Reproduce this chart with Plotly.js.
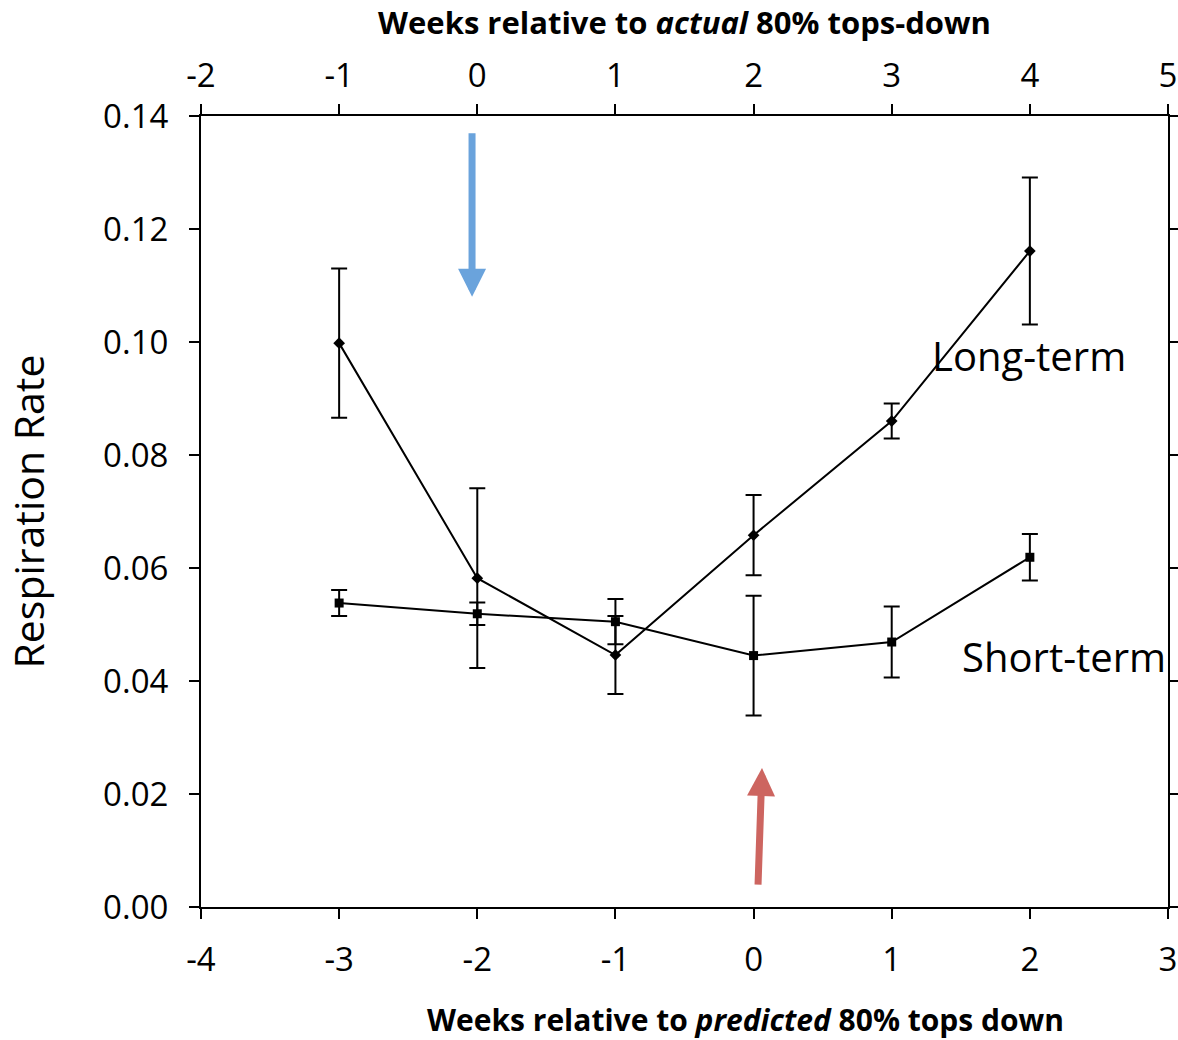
<!DOCTYPE html>
<html>
<head>
<meta charset="utf-8">
<script src="https://cdn.plot.ly/plotly-3.0.1.min.js"></script>
<style>
  html, body { margin: 0; padding: 0; background: #ffffff; }
  #chart { width: 1178px; height: 1040px; }
</style>
</head>
<body>
<div id="chart"></div>
<script>
// Weeks relative to predicted 80% tops down (bottom axis)
const weeksPredicted = [-3, -2, -1, 0, 1, 2];
// Long-term respiration rate and error
const longTerm    = [0.0998, 0.0582, 0.0446, 0.0658, 0.0860, 0.1161];
const longTermErr = [0.0132, 0.0159, 0.0069, 0.0071, 0.0031, 0.0130];
// Short-term respiration rate and error
const shortTerm    = [0.0538, 0.0519, 0.0505, 0.0445, 0.0469, 0.0619];
const shortTermErr = [0.0023, 0.0020, 0.0040, 0.0106, 0.0063, 0.0041];
// Axis ticks
const bottomTicks = [-4, -3, -2, -1, 0, 1, 2, 3];
const topTicks = [-2, -1, 0, 1, 2, 3, 4, 5];
const yTicks = [0, 0.02, 0.04, 0.06, 0.08, 0.10, 0.12, 0.14];

const FONT = '"Open Sans", "DejaVu Sans", sans-serif';

const traces = [
  {
    name: 'Long-term',
    x: weeksPredicted, y: longTerm,
    type: 'scatter', mode: 'lines+markers',
    line: {color: '#000000', width: 2},
    marker: {symbol: 'diamond', size: 9, color: '#000000'},
    error_y: {type: 'data', array: longTermErr, visible: true, color: '#000000', thickness: 2, width: 8},
    hoverinfo: 'skip', cliponaxis: false
  },
  {
    name: 'Short-term',
    x: weeksPredicted, y: shortTerm,
    type: 'scatter', mode: 'lines+markers',
    line: {color: '#000000', width: 2},
    marker: {symbol: 'square', size: 9, color: '#000000'},
    error_y: {type: 'data', array: shortTermErr, visible: true, color: '#000000', thickness: 2, width: 8},
    hoverinfo: 'skip', cliponaxis: false
  },
  {
    // empty trace so that the top (actual) axis is drawn
    name: 'actual axis', x: [], y: [], xaxis: 'x2', yaxis: 'y',
    type: 'scatter', mode: 'markers', hoverinfo: 'skip', showlegend: false
  }
];

const tickFont = {family: FONT, size: 33, color: '#000000'};
const axTitleFont = {family: FONT, size: 31, color: '#000000', weight: 'bold'};

const layout = {
  width: 1178, height: 1040,
  margin: {l: 201, r: 10, t: 116, b: 133},
  paper_bgcolor: '#ffffff', plot_bgcolor: '#ffffff',
  showlegend: false,
  xaxis: {
    range: [-4, 3], tickvals: bottomTicks, ticktext: bottomTicks.map(String),
    showgrid: false, zeroline: false,
    showline: true, linecolor: '#000000', linewidth: 2,
    ticks: 'outside', ticklen: 10, tickwidth: 2, tickcolor: '#000000',
    ticklabelstandoff: 12,
    tickfont: tickFont
  },
  xaxis2: {
    overlaying: 'x', side: 'top', anchor: 'y',
    range: [-2, 5], tickvals: topTicks, ticktext: topTicks.map(String),
    showgrid: false, zeroline: false,
    showline: true, linecolor: '#000000', linewidth: 2,
    ticks: 'outside', ticklen: 10, tickwidth: 2, tickcolor: '#000000',
    ticklabelstandoff: 4,
    tickfont: tickFont,
    title: {text: 'Weeks relative to <i>actual</i> 80% tops-down', font: axTitleFont, standoff: 8}
  },
  yaxis: {
    range: [0, 0.14], tickvals: yTicks, ticktext: yTicks.map(v => v.toFixed(2)),
    showgrid: false, zeroline: false,
    showline: true, linecolor: '#000000', linewidth: 2, mirror: 'ticks',
    ticks: 'outside', ticklen: 10, tickwidth: 2, tickcolor: '#000000',
    ticklabelstandoff: 14,
    tickfont: tickFont,
    title: {text: 'Respiration Rate', font: {family: FONT, size: 41, color: '#000000'}, standoff: 46}
  },
  annotations: [
    // bottom axis title (placed off-centre as in the original)
    {xref: 'paper', yref: 'paper', x: 0.563, y: -0.1416, text: 'Weeks relative to <i>predicted</i> 80% tops down',
     showarrow: false, xanchor: 'center', yanchor: 'middle', borderpad: 0,
     font: {family: FONT, size: 30, color: '#000000', weight: 'bold'}},
    {xref: 'x', yref: 'y', x: 1.277, y: 0.0977, text: 'Long-term', showarrow: false,
     xanchor: 'left', yanchor: 'middle', font: {family: FONT, size: 40, color: '#000000'}},
    {xref: 'x', yref: 'y', x: 1.494, y: 0.0444, text: 'Short-term', showarrow: false,
     xanchor: 'left', yanchor: 'middle', font: {family: FONT, size: 40, color: '#000000'}},
    {xref: 'x', yref: 'y', axref: 'x', ayref: 'y', x: -2.038, y: 0.1080, ax: -2.038, ay: 0.1372,
     text: '', showarrow: true, arrowhead: 2, arrowsize: 0.8, arrowwidth: 7, arrowcolor: '#6aa3dc', standoff: 0},
    {xref: 'x', yref: 'y', axref: 'x', ayref: 'y', x: 0.061, y: 0.0246, ax: 0.032, ay: 0.0037,
     text: '', showarrow: true, arrowhead: 2, arrowsize: 0.8, arrowwidth: 7, arrowcolor: '#cd6560', standoff: 0}
  ]
};

Plotly.newPlot('chart', traces, layout, {displayModeBar: false, staticPlot: true});
</script>
</body>
</html>
